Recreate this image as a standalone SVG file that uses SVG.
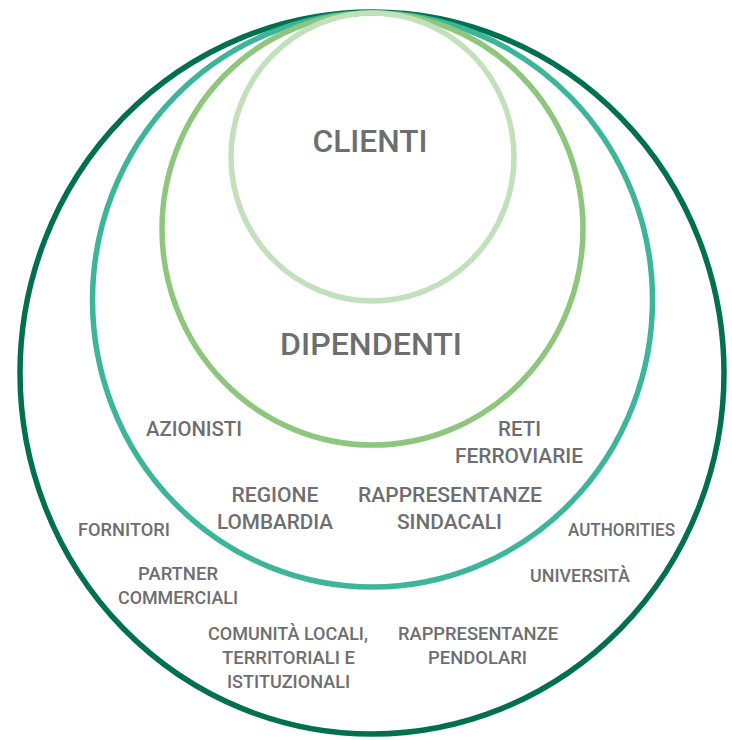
<svg xmlns="http://www.w3.org/2000/svg" width="732" height="740" viewBox="0 0 732 740">
<style>
.ring{fill:none;stroke-width:5.5}
.t{font-family:Roboto,"Liberation Sans",sans-serif;fill:#6d6e70;text-anchor:middle;font-weight:500}
.big{font-size:31px}
.mid{font-size:20px}
.sm{font-size:18px}
</style>
<rect width="732" height="740" fill="#ffffff"/>
<g id="rings">
<ellipse id="ring-outer" class="ring" cx="372" cy="373" rx="352" ry="361" stroke="#00704f"/>
<ellipse id="ring-teal" class="ring" cx="372.5" cy="300" rx="280" ry="287" stroke="#3db59b"/>
<ellipse id="ring-green" class="ring" cx="372.5" cy="229" rx="210.5" ry="216" stroke="#8ec67d"/>
<ellipse id="ring-light" class="ring" cx="372.5" cy="157" rx="141.5" ry="144" stroke="#c3e0bc"/>
</g>
<g id="connectors"></g>
<g id="labels">
<text id="clienti" class="t big" x="370" y="152" textLength="115" lengthAdjust="spacingAndGlyphs">CLIENTI</text>
<text id="dipendenti" class="t big" x="371" y="355" textLength="182" lengthAdjust="spacingAndGlyphs">DIPENDENTI</text>
<text id="azionisti" class="t mid" x="194" y="436" textLength="96" lengthAdjust="spacingAndGlyphs">AZIONISTI</text>
<g id="regione" class="t mid">
<text x="275" y="502" textLength="87" lengthAdjust="spacingAndGlyphs">REGIONE</text>
<text x="275" y="529" textLength="116" lengthAdjust="spacingAndGlyphs">LOMBARDIA</text>
</g>
<g id="reti" class="t mid">
<text x="519.5" y="436" textLength="43" lengthAdjust="spacingAndGlyphs">RETI</text>
<text x="519" y="463" textLength="128" lengthAdjust="spacingAndGlyphs">FERROVIARIE</text>
</g>
<g id="sindacali" class="t mid">
<text x="450" y="502" textLength="184" lengthAdjust="spacingAndGlyphs">RAPPRESENTANZE</text>
<text x="449.5" y="529" textLength="105" lengthAdjust="spacingAndGlyphs">SINDACALI</text>
</g>
<text id="fornitori" class="t sm" x="124" y="536" textLength="92" lengthAdjust="spacingAndGlyphs">FORNITORI</text>
<text id="authorities" class="t sm" x="621.5" y="536" textLength="107" lengthAdjust="spacingAndGlyphs">AUTHORITIES</text>
<g id="partner" class="t sm">
<text x="178" y="580" textLength="80" lengthAdjust="spacingAndGlyphs">PARTNER</text>
<text x="178" y="604" textLength="120" lengthAdjust="spacingAndGlyphs">COMMERCIALI</text>
</g>
<text id="universita" class="t sm" x="580" y="582" textLength="100" lengthAdjust="spacingAndGlyphs">UNIVERSITÀ</text>
<g id="comunita" class="t sm">
<text x="288" y="640" textLength="160" lengthAdjust="spacingAndGlyphs">COMUNITÀ LOCALI,</text>
<text x="288.5" y="664" textLength="133" lengthAdjust="spacingAndGlyphs">TERRITORIALI E</text>
<text x="288.5" y="688" textLength="123" lengthAdjust="spacingAndGlyphs">ISTITUZIONALI</text>
</g>
<g id="pendolari" class="t sm">
<text x="478" y="640" textLength="160" lengthAdjust="spacingAndGlyphs">RAPPRESENTANZE</text>
<text x="477.5" y="664" textLength="99" lengthAdjust="spacingAndGlyphs">PENDOLARI</text>
</g>
</g>
</svg>
